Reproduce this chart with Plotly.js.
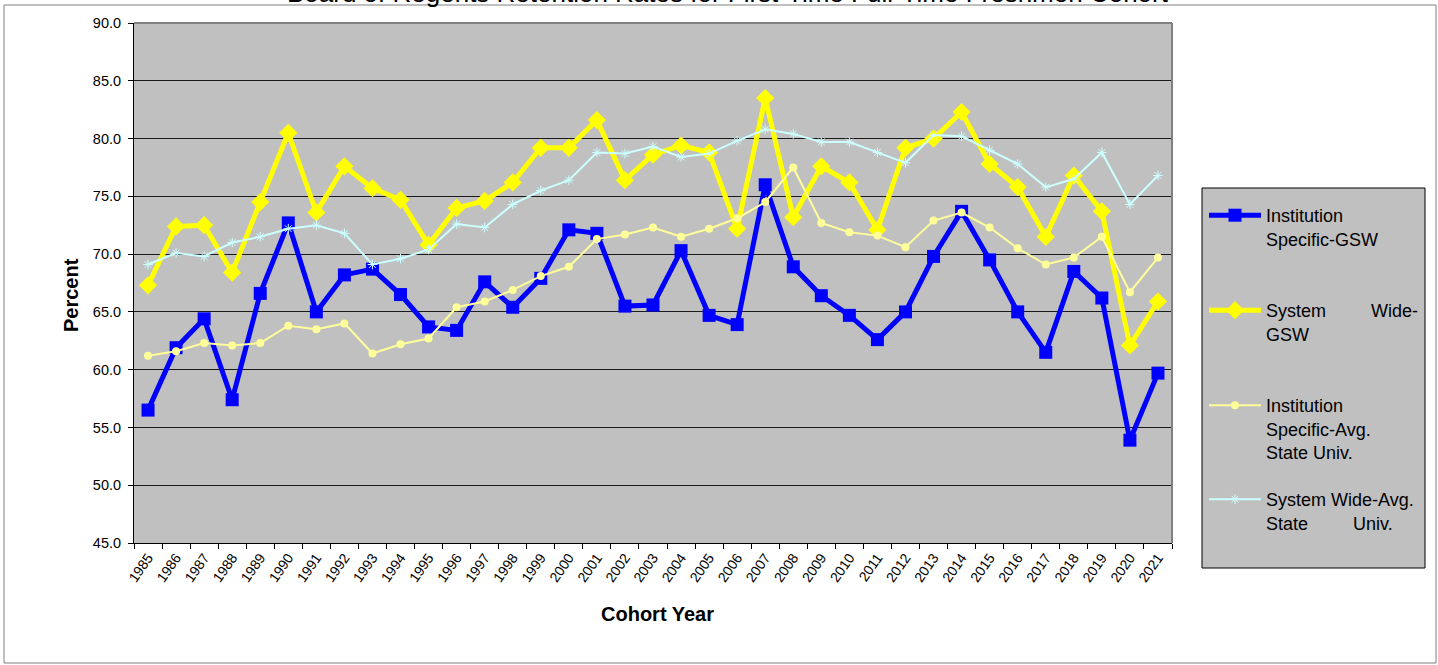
<!DOCTYPE html>
<html>
<head>
<meta charset="utf-8">
<script src="https://cdn.plot.ly/plotly-3.0.1.min.js"></script>
<style>
html,body{margin:0;padding:0;background:#fff;overflow:hidden;}
#chart{width:1438px;height:665px;overflow:hidden;}
</style>
</head>
<body>
<div id="chart"></div>
<script>
// ---- data ----
const years = ["1985","1986","1987","1988","1989","1990","1991","1992","1993","1994",
  "1995","1996","1997","1998","1999","2000","2001","2002","2003","2004",
  "2005","2006","2007","2008","2009","2010","2011","2012","2013","2014",
  "2015","2016","2017","2018","2019","2020","2021"];

const instSpecificGSW = [56.5,61.9,64.4,57.4,66.6,72.7,65.0,68.2,68.7,66.5,
  63.7,63.4,67.6,65.4,67.9,72.1,71.8,65.5,65.6,70.3,
  64.7,63.9,76.0,68.9,66.4,64.7,62.6,65.0,69.8,73.7,
  69.5,65.0,61.5,68.5,66.2,53.9,59.7];

const systemWideGSW = [67.3,72.4,72.5,68.4,74.5,80.5,73.6,77.6,75.7,74.7,
  70.8,74.0,74.6,76.2,79.2,79.2,81.6,76.4,78.6,79.4,
  78.8,72.2,83.5,73.2,77.6,76.2,72.1,79.2,80.0,82.3,
  77.8,75.8,71.5,76.8,73.7,62.1,65.9];

const instSpecificAvgState = [61.2,61.6,62.3,62.1,62.3,63.8,63.5,64.0,61.4,62.2,
  62.7,65.4,65.9,66.9,68.1,68.9,71.3,71.7,72.3,71.5,
  72.2,73.1,74.5,77.5,72.7,71.9,71.6,70.6,72.9,73.6,
  72.3,70.5,69.1,69.7,71.5,66.7,69.7];

const systemWideAvgState = [69.1,70.1,69.8,71.0,71.5,72.2,72.5,71.8,69.1,69.6,
  70.4,72.6,72.3,74.3,75.5,76.4,78.8,78.7,79.3,78.4,
  78.7,79.8,80.8,80.4,79.7,79.7,78.8,77.9,80.3,80.2,
  79.0,77.8,75.8,76.5,78.8,74.3,76.8];

const seriesNames = [
  "Institution<br>Specific-GSW",
  "System" + "\u00a0".repeat(9) + "Wide-<br>GSW",
  "Institution<br>Specific-Avg.<br>State Univ.",
  "System Wide-Avg.<br>State" + "\u00a0".repeat(9) + "Univ."
];

const FONT = "Liberation Sans, Arial, Helvetica, sans-serif";

// ---- geometry helpers (pixel -> paper) ----
const W = 1438, H = 665;
const L = 134, R = W - 1172, T = 23, B = H - 543;
const PW = W - L - R, PH = H - T - B;
const px = x => (x - L) / PW;
const py = y => (H - B - y) / PH;

const traces = [
  {x: years, y: instSpecificGSW, name: seriesNames[0], type: "scatter", mode: "lines+markers",
   line: {color: "#0000FF", width: 5}, marker: {symbol: "square", size: 13, color: "#0000FF"},
   legend: "legend"},
  {x: years, y: systemWideGSW, name: seriesNames[1], type: "scatter", mode: "lines+markers",
   line: {color: "#FFFF00", width: 5}, marker: {symbol: "diamond", size: 14, color: "#FFFF00"},
   legend: "legend2"},
  {x: years, y: instSpecificAvgState, name: seriesNames[2], type: "scatter", mode: "lines+markers",
   line: {color: "#FFFF99", width: 2}, marker: {symbol: "circle", size: 8, color: "#FFFF99"},
   legend: "legend3"},
  {x: years, y: systemWideAvgState, name: seriesNames[3], type: "scatter", mode: "lines+markers",
   line: {color: "#CCFFFF", width: 2},
   marker: {symbol: "asterisk-open", size: 8, color: "#CCFFFF", line: {color: "#CCFFFF", width: 1}},
   legend: "legend4"}
];

function leg(yTopPx) {
  return {
    x: px(1204), y: py(yTopPx), xanchor: "left", yanchor: "top",
    bgcolor: "rgba(0,0,0,0)", borderwidth: 0, valign: "top",
    itemwidth: 52, font: {family: FONT, size: 18, color: "#000"}
  };
}

const layout = {
  width: W, height: H, autosize: false,
  margin: {l: L, r: R, t: T, b: B, pad: 0, autoexpand: false},
  paper_bgcolor: "#FFFFFF",
  plot_bgcolor: "#C0C0C0",
  font: {family: FONT, color: "#000"},
  showlegend: true,
  xaxis: {
    type: "category", categoryorder: "array", categoryarray: years,
    range: [-0.5, years.length - 0.5], autorange: false,
    tickson: "boundaries", ticks: "outside", ticklen: 5, tickcolor: "#000", tickwidth: 1,
    showline: true, linecolor: "#000", linewidth: 1, showgrid: false, zeroline: false,
    tickangle: -55, tickfont: {family: FONT, size: 14, color: "#000"}
  },
  yaxis: {
    range: [45, 90], autorange: false, dtick: 5, tick0: 45, tickformat: ".1f",
    ticks: "outside", ticklen: 5, tickcolor: "#000", tickwidth: 1,
    showline: true, linecolor: "#000", linewidth: 1, ticklabelstandoff: 4,
    showgrid: true, gridcolor: "#1a1a1a", gridwidth: 1, zeroline: false,
    tickfont: {family: FONT, size: 14.5, color: "#000"}
  },
  legend: leg(197),
  legend2: leg(292),
  legend3: leg(387),
  legend4: leg(481),
  shapes: [
    // outer chart frame
    {type: "rect", xref: "paper", yref: "paper", x0: px(4), x1: px(1436), y0: py(663), y1: py(5),
     line: {color: "#808080", width: 1}, fillcolor: "rgba(0,0,0,0)", layer: "below"},
    // legend box
    {type: "rect", xref: "paper", yref: "paper", x0: px(1202), x1: px(1425), y0: py(568), y1: py(188),
     line: {color: "#000", width: 1}, fillcolor: "#C0C0C0", layer: "below"},
    // plot area top and right borders
    {type: "line", xref: "paper", yref: "paper", x0: 0, x1: 1, y0: 1, y1: 1,
     line: {color: "#808080", width: 2}, layer: "above"},
    {type: "line", xref: "paper", yref: "paper", x0: 1, x1: 1, y0: 0, y1: 1,
     line: {color: "#808080", width: 2}, layer: "above"}
  ],
  annotations: [
    {text: "Board of Regents Retention Rates for First-Time Full-Time Freshmen Cohort",
     xref: "paper", yref: "paper", x: px(727.5), y: py(10), xanchor: "center", yanchor: "bottom",
     showarrow: false, font: {family: FONT, size: 26, color: "#000"}},
    {text: "<b>Cohort Year</b>", xref: "paper", yref: "paper", x: px(657), y: py(614),
     xanchor: "center", yanchor: "middle", showarrow: false,
     font: {family: FONT, size: 20, color: "#000"}},
    {text: "<b>Percent</b>", xref: "paper", yref: "paper", x: px(71), y: py(295),
     xanchor: "center", yanchor: "middle", textangle: -90, showarrow: false,
     font: {family: FONT, size: 20, color: "#000"}}
  ]
};

Plotly.newPlot("chart", traces, layout, {staticPlot: true, displayModeBar: false});
</script>
</body>
</html>
